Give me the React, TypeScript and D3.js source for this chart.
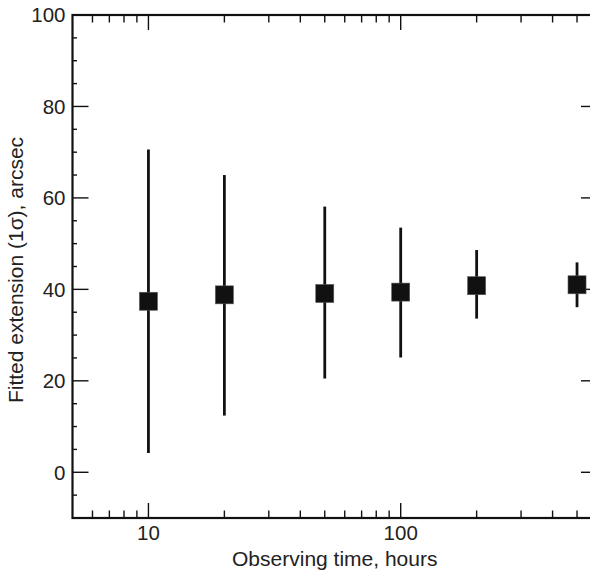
import React from "react";
import * as d3 from "d3";

const hours = [10, 20, 50, 100, 200, 500];
const extension = [37.4, 38.8, 39.1, 39.4, 40.8, 41.0];
const errLow = [4.2, 12.4, 20.5, 25.1, 33.6, 36.1];
const errHigh = [70.6, 65.0, 58.1, 53.5, 48.6, 45.9];
const yMajorTicks = [0, 20, 40, 60, 80, 100];
const yMinorTicks = [-5, 5, 10, 15, 25, 30, 35, 45, 50, 55, 65, 70, 75, 85, 90, 95];
const xMajorTicks = [10, 100];
const xMinorTicks = [6, 7, 8, 9, 20, 30, 40, 50, 60, 70, 80, 90, 200, 300, 400, 500];

const W = 590;
const H = 572;
const left = 72.5;
const right = 597;
const top = 15;
const bottom = 518;

export default function App() {
  const x = d3.scaleLog().domain([5, 600]).range([left, right]);
  const y = d3.scaleLinear().domain([-10, 100]).range([bottom, top]);
  const font = "'Liberation Sans', Arial, sans-serif";
  const sq = 18;
  return (
    <svg
      width={W}
      height={H}
      style={{ position: "absolute", left: 0, top: 0, background: "#fff" }}
    >
      {/* ticks */}
      <g stroke="#111" strokeWidth={1.4}>
        {yMajorTicks.map((v) => (
          <g key={"ym" + v}>
            <line x1={left} x2={left + 16} y1={y(v)} y2={y(v)} />
            <line x1={right} x2={right - 16} y1={y(v)} y2={y(v)} />
          </g>
        ))}
        {yMinorTicks.map((v) => (
          <g key={"yn" + v}>
            <line x1={left} x2={left + 4.5} y1={y(v)} y2={y(v)} />
            <line x1={right} x2={right - 4.5} y1={y(v)} y2={y(v)} />
          </g>
        ))}
        {xMajorTicks.map((v) => (
          <g key={"xm" + v}>
            <line x1={x(v)} x2={x(v)} y1={bottom} y2={bottom - 15} />
            <line x1={x(v)} x2={x(v)} y1={top} y2={top + 15} />
          </g>
        ))}
        {xMinorTicks.map((v) => (
          <g key={"xn" + v}>
            <line x1={x(v)} x2={x(v)} y1={bottom} y2={bottom - 7.5} />
            <line x1={x(v)} x2={x(v)} y1={top} y2={top + 7.5} />
          </g>
        ))}
      </g>
      {/* frame */}
      <rect
        x={left}
        y={top}
        width={right - left}
        height={bottom - top}
        fill="none"
        stroke="#111"
        strokeWidth={2.2}
      />
      {/* tick labels */}
      <g fontFamily={font} fontSize={20.5} fill="#222">
        {yMajorTicks.map((v) => (
          <text key={"yl" + v} x={left - 7} y={y(v)} dy="0.36em" textAnchor="end">
            {v}
          </text>
        ))}
        {xMajorTicks.map((v) => (
          <text key={"xl" + v} x={x(v)} y={bottom + 22} textAnchor="middle">
            {v}
          </text>
        ))}
      </g>
      {/* axis titles */}
      <text
        x={(left + right) / 2}
        y={566}
        textAnchor="middle"
        fontFamily={font}
        fontSize={21}
        fill="#222"
      >
        Observing time, hours
      </text>
      <text
        transform={`translate(23,270) rotate(-90)`}
        textAnchor="middle"
        fontFamily={font}
        fontSize={21}
        fill="#222"
      >
        Fitted extension (1σ), arcsec
      </text>
      {/* data */}
      <g>
        {hours.map((h, i) => (
          <g key={"p" + h}>
            <line
              x1={x(h)}
              x2={x(h)}
              y1={y(errLow[i])}
              y2={y(errHigh[i])}
              stroke="#111"
              strokeWidth={2.8}
            />
            <rect
              x={x(h) - sq / 2}
              y={y(extension[i]) - sq / 2}
              width={sq}
              height={sq}
              fill="#111"
              stroke="#555"
              strokeWidth={0.6}
            />
          </g>
        ))}
      </g>
    </svg>
  );
}
